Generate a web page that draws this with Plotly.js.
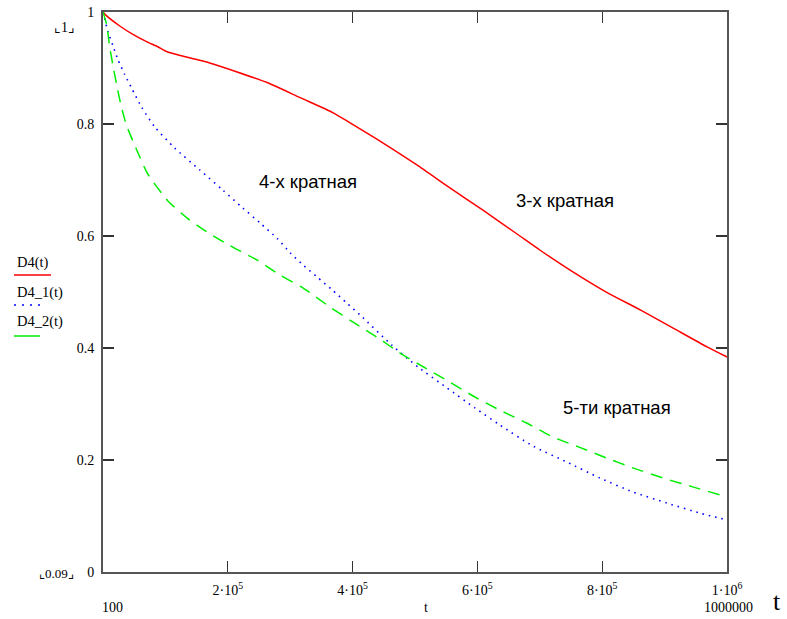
<!DOCTYPE html>
<html>
<head>
<meta charset="utf-8">
<script src="https://cdn.plot.ly/plotly-3.0.1.min.js"></script>
<style>html,body{margin:0;padding:0;background:#fff;}#chart{width:787px;height:619px;}</style>
</head>
<body>
<div id="chart"></div>
<script>
// D4(t) — 3-x кратная (red)
const tRed = [100, 6000, 27000, 48000, 70000, 88000, 103000, 140000, 171000, 215000, 263000, 316000, 369000, 396000, 449000, 503000, 556000, 609000, 663000, 700000, 753000, 808000, 861000, 913000, 968000, 1000000];
const D4 = [1.0, 0.993, 0.975, 0.96, 0.947, 0.938, 0.929, 0.918, 0.909, 0.893, 0.874, 0.847, 0.82, 0.802, 0.766, 0.727, 0.686, 0.646, 0.604, 0.575, 0.536, 0.499, 0.468, 0.436, 0.402, 0.384];

// D4_1(t) — 4-x кратная (blue, dotted)
const tBlue = [100, 8000, 16000, 24000, 35000, 46000, 62000, 83000, 115000, 155000, 192000, 224000, 252000, 279000, 300000, 321000, 343000, 367000, 391000, 412000, 463000, 505000, 551000, 596000, 636000, 689000, 744000, 796000, 849000, 904000, 957000, 1000000];
const D4_1 = [1.0, 0.965, 0.94, 0.915, 0.888, 0.864, 0.83, 0.795, 0.757, 0.718, 0.682, 0.65, 0.623, 0.596, 0.57, 0.548, 0.527, 0.504, 0.48, 0.459, 0.405, 0.366, 0.329, 0.293, 0.2625, 0.225, 0.196, 0.168, 0.143, 0.123, 0.105, 0.093];

// D4_2(t) — 5-ти кратная (green, dashed)
const tGreen = [100, 6000, 11000, 16000, 22000, 27000, 37000, 54000, 71000, 103000, 135000, 167000, 208000, 247000, 284000, 321000, 364000, 401000, 441000, 476000, 517000, 556000, 596000, 636000, 679000, 721000, 763000, 806000, 849000, 897000, 945000, 1000000];
const D4_2 = [1.0, 0.977, 0.936, 0.905, 0.87, 0.843, 0.80, 0.754, 0.7125, 0.664, 0.632, 0.607, 0.58, 0.557, 0.530, 0.507, 0.473, 0.446, 0.418, 0.391, 0.364, 0.339, 0.3125, 0.289, 0.266, 0.241, 0.223, 0.204, 0.186, 0.168, 0.152, 0.134];

const xTickVals = [200000, 400000, 600000, 800000, 1000000];
const xTickText = ['2·10<sup>5</sup>', '4·10<sup>5</sup>', '6·10<sup>5</sup>', '8·10<sup>5</sup>', '1·10<sup>6</sup>'];
const yTickVals = [0, 0.2, 0.4, 0.6, 0.8, 1];
const yTickText = ['0', '0.2', '0.4', '0.6', '0.8', '1'];

const legendNames = ['D4(t)', 'D4_1(t)', 'D4_2(t)'];
const curveLabels = ['3-х кратная', '4-х кратная', '5-ти кратная'];

const traces = [
  {x: tRed, y: D4, mode: 'lines', name: legendNames[0], line: {color: '#ff0000', width: 1.5, shape: 'spline', smoothing: 0.6}},
  {x: tBlue, y: D4_1, mode: 'lines', name: legendNames[1], line: {color: '#0000ff', width: 1.6, dash: '1.5px,5px', shape: 'spline', smoothing: 0.6}},
  {x: tGreen, y: D4_2, mode: 'lines', name: legendNames[2], line: {color: '#00ee00', width: 1.5, dash: '12px,8px', shape: 'spline', smoothing: 0.6}}
];

// pixel helpers for decorations (plot area 103..727 x, 12..572 y)
const L = 103, R = 727, T = 12, B = 572;
const px = v => (v - L) / (R - L);
const py = v => (B - v) / (B - T);

const serif = 'Liberation Serif, Times New Roman, serif';
const sans = 'Liberation Sans, Arial, sans-serif';

const ann = [];
function txt(x, y, s, size, fam, anchor) {
  ann.push({xref: 'paper', yref: 'paper', x: px(x), y: py(y), text: s, showarrow: false,
    xanchor: anchor || 'center', yanchor: 'middle', font: {family: fam, size: size, color: '#000'}});
}
txt(308, 181, curveLabels[1], 18.5, sans);
txt(565, 200, curveLabels[0], 18.5, sans);
txt(617, 408, curveLabels[2], 18.5, sans);
txt(64, 27, '⌞1⌟', 14, serif);
txt(56, 573, '⌞0.09⌟', 13, serif);
txt(112, 607, '100', 14, serif);
txt(728, 607, '1000000', 14, serif);
txt(426, 607, 't', 14, serif);
txt(777, 601, 't', 26, serif);
txt(15, 262, legendNames[0], 14.5, serif, 'left');
txt(15, 292, legendNames[1], 14.5, serif, 'left');
txt(15, 321, legendNames[2], 14.5, serif, 'left');

const shapes = [
  {type: 'line', xref: 'paper', yref: 'paper', x0: px(14), x1: px(51), y0: py(275), y1: py(275), line: {color: '#ff0000', width: 1.5}},
  {type: 'line', xref: 'paper', yref: 'paper', x0: px(14), x1: px(45), y0: py(305), y1: py(305), line: {color: '#0000ff', width: 1.6, dash: '2px,6px'}},
  {type: 'line', xref: 'paper', yref: 'paper', x0: px(14), x1: px(40), y0: py(336), y1: py(336), line: {color: '#00ee00', width: 1.5}}
];

const layout = {
  width: 787, height: 619,
  margin: {l: L, r: 787 - R, t: T, b: 619 - B, pad: 0},
  paper_bgcolor: '#fff', plot_bgcolor: '#fff',
  showlegend: false,
  xaxis: {range: [100, 1000000], tickmode: 'array', tickvals: xTickVals, ticktext: xTickText,
    ticks: 'inside', ticklen: 11, tickwidth: 1.3, tickcolor: '#333', showgrid: false, zeroline: false,
    showline: true, linecolor: '#555', linewidth: 2, mirror: 'allticks',
    tickfont: {family: serif, size: 14, color: '#000'}, ticklabelstandoff: 4},
  yaxis: {range: [0, 1], tickmode: 'array', tickvals: yTickVals, ticktext: yTickText,
    ticks: 'inside', ticklen: 11, tickwidth: 1.3, tickcolor: '#333', showgrid: false, zeroline: false,
    showline: true, linecolor: '#555', linewidth: 2, mirror: 'allticks',
    tickfont: {family: serif, size: 14, color: '#000'}, ticklabelstandoff: 4},
  annotations: ann,
  shapes: shapes
};

Plotly.newPlot('chart', traces, layout, {staticPlot: true, displayModeBar: false});
</script>
</body>
</html>
